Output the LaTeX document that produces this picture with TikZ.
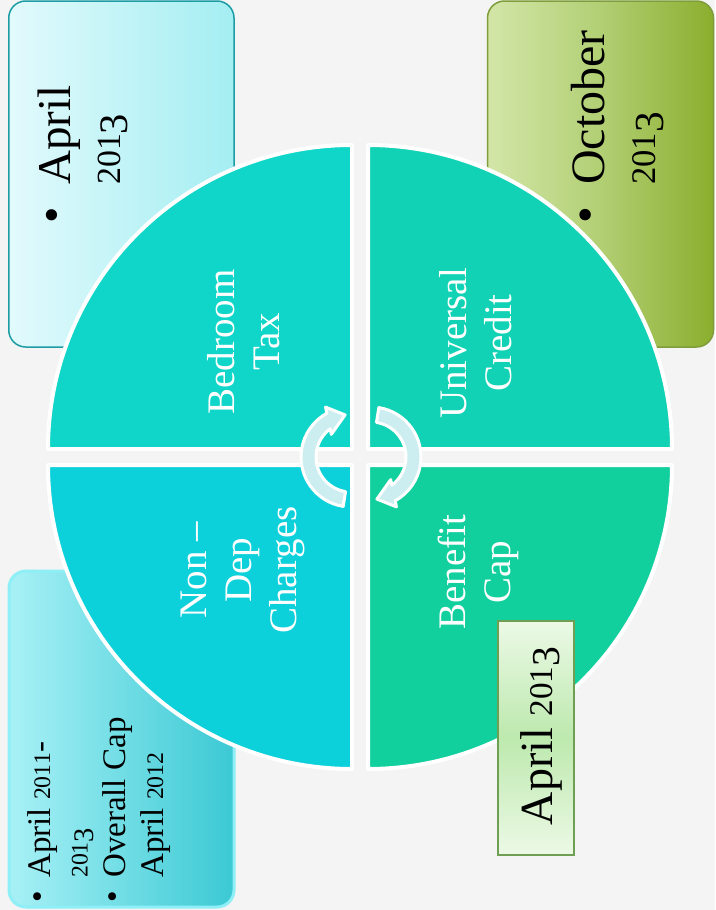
\RequirePackage{fix-cm}
\documentclass[tikz,border=0pt]{standalone}
\usepackage{graphicx}
\usepackage{fontspec}
\setmainfont{Liberation Serif}
\definecolor{bgc}{HTML}{F4F4F4}
\definecolor{qTL}{HTML}{0FD6C8}
\definecolor{qTR}{HTML}{11D2B4}
\definecolor{qBL}{HTML}{0CD0DA}
\definecolor{qBR}{HTML}{12CF9E}
\definecolor{tlBorder}{HTML}{1C9CA4}
\definecolor{tlA}{HTML}{E2FAFC}
\definecolor{tlB}{HTML}{A4EEF2}
\definecolor{trBorder}{HTML}{7F9D3B}
\definecolor{trA}{HTML}{D3E6A8}
\definecolor{trM}{HTML}{B2CF74}
\definecolor{trB}{HTML}{8BAE2E}
\definecolor{blGlow}{HTML}{8FEFF6}
\definecolor{blA}{HTML}{A8F1F6}
\definecolor{blB}{HTML}{3BC9D4}
\definecolor{brBorder}{HTML}{6F9F52}
\definecolor{brA}{HTML}{ECF9E6}
\definecolor{brM}{HTML}{BDE9AE}
\definecolor{arrowFill}{HTML}{CDEEF0}
\tikzset{
  quarter/.style={draw=white, line width=4pt, line join=round},
  qtext/.style={text=white, align=center, font={\fontsize{39}{45}\selectfont}, rotate=90, inner sep=0pt},
  boxtext/.style={text=black, rotate=90, inner sep=0pt, anchor=base west},
  circarrow/.style={fill=arrowFill, draw=white, line width=3pt, line join=round},
}
\newcommand{\bigbul}[1]{\makebox[#1]{\raisebox{0.05em}{\textbullet}}}
% old-style figures built from the text figures
\makeatletter
\newcommand{\osdig}[1]{\ifnum#1=3 \raisebox{-0.17em}{\scalebox{0.86}{3}}\else\scalebox{0.72}{#1}\fi}
\newcommand{\osn}[1]{\@tfor\os@d:=#1\do{\expandafter\osdig\expandafter{\os@d}}}
\makeatother
\begin{document}
\begin{tikzpicture}[x=1pt,y=1pt]
\fill[bgc] (0,0) rectangle (715,-910);
\useasboundingbox (0,0) rectangle (715,-910);

% side boxes (behind the circle)
\draw[draw=tlBorder, line width=1.5pt, rounded corners=17pt, left color=tlA, right color=tlB] (8.75,-1) rectangle (234,-347);
\draw[draw=trBorder, line width=1.5pt, rounded corners=17pt, left color=trA, right color=trB, middle color=trM] (487.5,-1) rectangle (713.5,-347);
\draw[draw=blGlow, line width=3pt, rounded corners=17pt, left color=blA, right color=blB] (9,-571) rectangle (234,-907);

% quarters
\filldraw[quarter, fill=qTL] (352,-449) -- (352,-145) arc[start angle=90, end angle=180, radius=304] -- cycle;
\filldraw[quarter, fill=qTR] (368,-449) -- (672,-449) arc[start angle=0, end angle=90, radius=304] -- cycle;
\filldraw[quarter, fill=qBL] (352,-465) -- (48,-465) arc[start angle=180, end angle=270, radius=304] -- cycle;
\filldraw[quarter, fill=qBR] (368,-465) -- (368,-769) arc[start angle=270, end angle=360, radius=304] -- cycle;

% box on top of the circle
\draw[draw=brBorder, line width=2pt, top color=brA, bottom color=brA, middle color=brM] (497.5,-620.5) rectangle (573.5,-854.5);

% circular arrows
\begin{scope}[shift={(351,-457)}]
  \filldraw[circarrow] (261:50) arc[start angle=261, end angle=119, radius=50] -- (117:56) -- (98:42.5) -- (131:30) -- (126.5:35) arc[start angle=126.5, end angle=261, radius=35] -- cycle;
\end{scope}
\begin{scope}[shift={(371,-457)}, rotate=180]
  \filldraw[circarrow] (261:50) arc[start angle=261, end angle=119, radius=50] -- (117:56) -- (98:42.5) -- (131:30) -- (126.5:35) arc[start angle=126.5, end angle=261, radius=35] -- cycle;
\end{scope}

% quarter labels
\node[qtext] (bedroom) at (244,-342) {Bedroom\\Tax};
\node[qtext] (universal) at (476,-343) {Universal\\Credit};
\node[qtext] (nondep) at (243,-570) {Non --\\Dep\\Charges};
\node[qtext] (benefit) at (478,-572) {Benefit\\Cap};

% box texts
\node[boxtext, font={\fontsize{47}{50}\selectfont}] (tltext) at (70,-225)
  {\begin{tabular}[t]{@{}c@{\hspace{20pt}}l@{}}\bigbul{20pt} & April\\ & \osn{2013}\end{tabular}};
\node[boxtext, font={\fontsize{48}{51}\selectfont}] (trtext) at (604,-225)
  {\begin{tabular}[t]{@{}c@{\hspace{20pt}}l@{}}\bigbul{20pt} & October\\ & \osn{2013}\end{tabular}};
\node[boxtext, font={\fontsize{33}{37.7}\selectfont}] (bltext) at (50,-904)
  {\begin{tabular}[t]{@{}c@{\hspace{12pt}}l@{}}\bigbul{14pt} & April \osn{2011}-\\ & \osn{2013}\\ \bigbul{14pt} & Overall Cap\\ & April \osn{2012}\end{tabular}};
\node[rotate=90, anchor=base, inner sep=0pt, font={\fontsize{46}{50}\selectfont}] (brtext) at (552,-736) {April \osn{2013}};
\end{tikzpicture}
\end{document}
